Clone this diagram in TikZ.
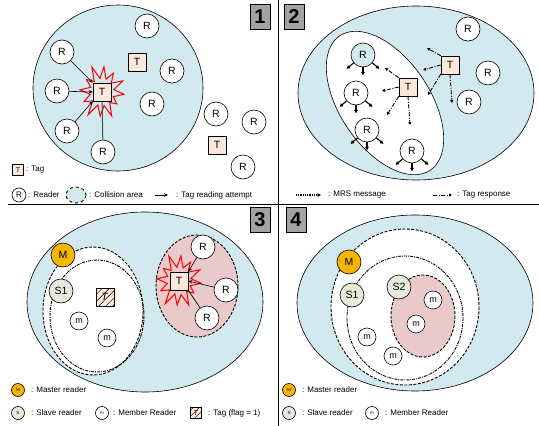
\documentclass[tikz,border=0pt]{standalone}
\usepackage{fontspec}
\setmainfont{Liberation Sans}
\usetikzlibrary{arrows.meta,patterns.meta}
\definecolor{bgblue}{HTML}{D2E9EF}
\definecolor{tagfill}{HTML}{FCE8DA}
\definecolor{pinkfill}{HTML}{E9C9C9}
\definecolor{masterc}{HTML}{F8B500}
\definecolor{slavec}{HTML}{E6EADB}
\definecolor{numgray}{HTML}{A3A3A3}
\tikzset{
  reader/.style={circle, draw, fill=white, minimum size=24pt, inner sep=0pt, line width=0.6pt, font=\fontsize{10.5}{10}\selectfont},
  tagbox/.style={rectangle, draw, fill=tagfill, minimum size=18pt, inner sep=0pt, line width=0.6pt, font=\fontsize{10.5}{10}\selectfont},
  member/.style={circle, draw, fill=white, minimum size=18pt, inner sep=0pt, line width=0.6pt, font=\fontsize{9}{9}\selectfont},
  master/.style={reader, fill=masterc},
  slave/.style={reader, fill=slavec},
  hatched/.style={tagbox, postaction={pattern={Lines[angle=45,distance=5pt,line width=0.5pt]}}},
  numbox/.style={draw, fill=numgray, minimum width=20pt, minimum height=25pt, inner sep=0pt, font=\fontsize{20}{20}\selectfont\bfseries, line width=0.8pt},
  legtext/.style={anchor=west, inner sep=0pt, font=\fontsize{8}{8}\selectfont},
  legicon/.style={circle, draw, minimum size=14pt, inner sep=0pt, line width=0.6pt, font=\fontsize{8}{8}\selectfont},
  smallicon/.style={circle, draw, minimum size=13pt, inner sep=0pt, line width=0.6pt, font=\fontsize{4.5}{5}\selectfont},
  legtag/.style={rectangle, draw, fill=tagfill, minimum size=11pt, inner sep=0pt, line width=0.6pt, font=\fontsize{7}{7}\selectfont},
  attempt/.style={-{Stealth[length=4pt,width=3.5pt]}, line width=0.6pt},
  mrs/.style={-{Triangle[length=3.5pt,width=3.5pt]}, line width=1.1pt},
  mrsdot/.style={-{Triangle[length=3.5pt,width=3.5pt]}, line width=1.2pt, dash pattern=on 1pt off 0.8pt},
  tagresp/.style={-{Triangle[length=3pt,width=3pt]}, line width=0.9pt, dash pattern=on 4pt off 1.5pt on 1pt off 1.5pt},
  burst/.style={draw=red, line width=1pt},
  mrange/.style={draw, line width=0.9pt, dash pattern=on 3pt off 1.5pt},
  srange/.style={draw, line width=0.9pt, dash pattern=on 3pt off 1pt on 1pt off 1pt},
  area/.style={draw, fill=bgblue, line width=0.6pt},
  divider/.style={line width=1pt}
}
\newcommand\myburst[1]{%
  \begin{scope}[shift={(#1)}, yscale=1.15]
    \draw[burst] (5:22) \foreach \a/\r in {20/12,35/18,50/12,65/23,80/12,95/21,110/12,125/24,140/12,155/20,170/12,185/22,200/12,215/19,230/12,245/24,260/12,275/22,290/12,305/20,320/12,335/23,350/12} {-- (\a:\r)} -- cycle;
  \end{scope}}
\newcommand\mrsout[1]{%
  \draw[mrs] (#1.-140) -- ++(-7,6);
  \draw[mrs] (#1.-90) -- ++(0,8);
  \draw[mrs] (#1.-40) -- ++(7,6);}
\begin{document}
\begin{tikzpicture}[x=1pt,y=-1pt]
\useasboundingbox (0,0) rectangle (539,426);

% dividers
\coordinate (vtop) at (278,0);
\coordinate (vbot) at (278,426);
\coordinate (hl) at (8,204);
\coordinate (hr) at (539,204);
\draw[divider] (vtop) -- (vbot);
\draw[divider] (hl) -- (hr);

% number boxes
\node[numbox] (n1) at (260,17) {1};
\node[numbox] (n2) at (294,17) {2};
\node[numbox] (n3) at (260,220) {3};
\node[numbox] (n4) at (296,220) {4};

% ================= Panel 1 =================
\draw[area] (118,88) ellipse [x radius=85, y radius=83];
\myburst{102,92}
\node[tagbox] (p1t) at (102,92) {T};
\node[tagbox] (p1t2) at (137,62) {T};
\node[tagbox] (p1t3) at (217,145) {T};
\node[reader] (p1r1) at (147,26) {R};
\node[reader] (p1r2) at (62,52) {R};
\node[reader] (p1r3) at (172,71) {R};
\node[reader] (p1r4) at (57,91) {R};
\node[reader] (p1r5) at (152,104) {R};
\node[reader] (p1r6) at (67,131) {R};
\node[reader] (p1r7) at (103,152) {R};
\node[reader] (p1r8) at (216,114) {R};
\node[reader] (p1r9) at (254,122) {R};
\node[reader] (p1r10) at (243,167) {R};
\draw[attempt] (p1r2) -- (p1t.north west);
\draw[attempt] (p1r4) -- (p1t.west);
\draw[attempt] (p1r6) -- (p1t.south west);
\draw[line width=1pt, black!70] (p1r7) -- (p1t);

% legend panel 1
\node[legtag] (l1t) at (18,170) {T};
\node[legtext] (l1tt) at (26,170) {: Tag};
\node[legicon] (l1r) at (19,195) {R};
\node[legtext] (l1rt) at (28,195) {: Reader};
\draw[area, dashed, line width=0.9pt] (76,195) ellipse [x radius=10, y radius=8];
\node[legtext] (l1ca) at (89,195) {: Collision area};
\coordinate (l1a1) at (155,195);
\coordinate (l1a2) at (168,195);
\draw[attempt] (l1a1) -- (l1a2);
\node[legtext] (l1at) at (176,195) {: Tag reading attempt};

% ================= Panel 2 =================
\draw[area] (416,93) ellipse [x radius=118, y radius=87];
\draw[fill=white, line width=0.6pt] plot[domain=0:360, samples=90, smooth cycle]
  ({385 + 81*cos(\x)*cos(56) - 45*sin(\x)*sin(56)}, {103 + 81*cos(\x)*sin(56) + 45*sin(\x)*cos(56)});
\node[tagbox] (p2t1) at (408,87) {T};
\node[tagbox] (p2t2) at (450,65) {T};
\node[reader, fill=bgblue] (p2r1) at (363,55) {R};
\node[reader] (p2r2) at (356,93) {R};
\node[reader] (p2r3) at (367,130) {R};
\node[reader] (p2r4) at (412,151) {R};
\node[reader] (p2r5) at (468,29) {R};
\node[reader] (p2r6) at (488,73) {R};
\node[reader] (p2r7) at (469,102) {R};
\mrsout{p2r1}
\mrsout{p2r2}
\mrsout{p2r3}
\mrsout{p2r4}
\coordinate (e11) at (385,68);
\coordinate (e12) at (382,91);
\coordinate (e13) at (387,115);
\coordinate (e14) at (410,125);
\coordinate (e21) at (427,48);
\coordinate (e22) at (423,70);
\coordinate (e23) at (428,95);
\coordinate (e24) at (452,103);
\draw[tagresp] (p2t1.north west) -- (e11);
\draw[tagresp] (p2t1.west) -- (e12);
\draw[tagresp] (p2t1.south west) -- (e13);
\draw[tagresp] (p2t1.south) -- (e14);
\draw[tagresp] (p2t2.north west) -- (e21);
\draw[tagresp] (p2t2.west) -- (e22);
\draw[tagresp] (p2t2.south west) -- (e23);
\draw[tagresp] (p2t2.south) -- (e24);

% legend panel 2
\coordinate (l2a1) at (296,195);
\coordinate (l2a2) at (321,195);
\draw[mrsdot] (l2a1) -- (l2a2);
\node[legtext] (l2mt) at (328,195) {: MRS message};
\coordinate (l2b1) at (433,195);
\coordinate (l2b2) at (452,195);
\draw[tagresp] (l2b1) -- (l2b2);
\node[legtext] (l2tt) at (457,195) {: Tag response};

% ================= Panel 3 =================
\draw[area] (145,302) ellipse [x radius=118, y radius=90];
\draw[mrange, fill=white] (93,311) ellipse [x radius=50, y radius=64];
\draw[srange] (97,316) ellipse [x radius=47, y radius=56];
\draw[mrange, fill=pinkfill] (197,286) ellipse [x radius=41, y radius=51];
\myburst{179,281}
\node[tagbox] (p3t) at (179,281) {T};
\node[hatched] (p3h) at (105,297) {\textit{T}};
\node[master] (p3m) at (63,255) {M};
\node[slave] (p3s1) at (61,291) {S1};
\node[member] (p3m1) at (79,321) {m};
\node[member] (p3m2) at (107,338) {m};
\node[reader] (p3r1) at (203,247) {R};
\node[reader] (p3r2) at (226,290) {R};
\node[reader] (p3r3) at (207,318) {R};
\draw[attempt] (p3r1) -- (p3t.north east);
\draw[attempt] (p3r2) -- (p3t.east);
\draw[line width=0.7pt] (p3r3) -- (p3t.south east);

% legend panel 3
\node[smallicon, fill=masterc] (l3m) at (18,390) {M};
\node[legtext] (l3mt) at (31,390) {: Master reader};
\node[smallicon, fill=slavec] (l3s) at (18,413) {S};
\node[legtext] (l3st) at (31,413) {: Slave reader};
\node[smallicon, fill=white] (l3b) at (102,413) {m};
\node[legtext] (l3bt) at (113,413) {: Member Reader};
\node[legtag, postaction={pattern={Lines[angle=45,distance=4pt,line width=0.5pt]}}] (l3h) at (196,413) {\textit{T}};
\node[legtext] (l3ht) at (208,413) {: Tag (flag = 1)};

% ================= Panel 4 =================
\draw[area] (415,303) ellipse [x radius=118, y radius=88];
\draw[mrange, fill=white] (405,307) ellipse [x radius=74, y radius=78];
\draw[srange] (405,318) ellipse [x radius=58, y radius=62];
\draw[mrange, fill=pinkfill] (423,316) ellipse [x radius=32, y radius=41];
\node[master] (p4m) at (349,262) {M};
\node[slave] (p4s1) at (352,295) {S1};
\node[slave] (p4s2) at (399,287) {S2};
\node[member] (p4m1) at (433,300) {m};
\node[member] (p4m2) at (416,324) {m};
\node[member] (p4m3) at (367,337) {m};
\node[member] (p4m4) at (393,356) {m};

% legend panel 4
\node[smallicon, fill=masterc] (l4m) at (289,390) {M};
\node[legtext] (l4mt) at (302,390) {: Master reader};
\node[smallicon, fill=slavec] (l4s) at (289,413) {S};
\node[legtext] (l4st) at (302,413) {: Slave reader};
\node[smallicon, fill=white] (l4b) at (372,413) {m};
\node[legtext] (l4bt) at (385,413) {: Member Reader};
\end{tikzpicture}
\end{document}
